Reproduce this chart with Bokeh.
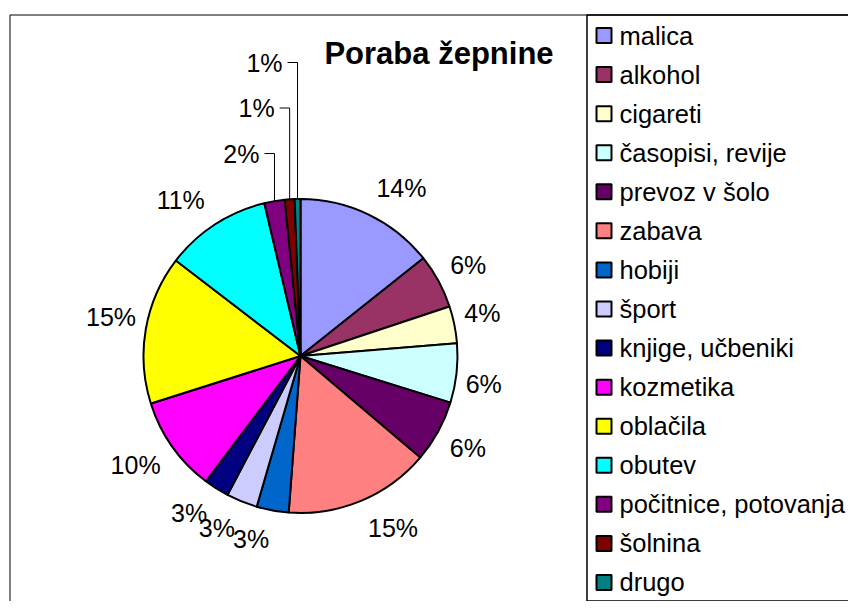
import math
from bokeh.plotting import figure
from bokeh.models import Range1d, ColumnDataSource
from bokeh.core.properties import value
from bokeh.embed import file_html
from bokeh.resources import INLINE

# ---- data ----
categories = ["malica", "alkohol", "cigareti", "časopisi, revije", "prevoz v šolo",
              "zabava", "hobiji", "šport", "knjige, učbeniki", "kozmetika",
              "oblačila", "obutev", "počitnice, potovanja", "šolnina", "drugo"]
shares = [14.3, 5.6, 3.8, 6.1, 6.4, 15.0, 3.3, 3.2, 2.6, 9.8, 15.3, 10.9, 2.1, 1.0, 0.6]
colors = ["#9999FF", "#993366", "#FFFFCC", "#CCFFFF", "#660066", "#FF8080", "#0066CC",
          "#CCCCFF", "#000080", "#FF00FF", "#FFFF00", "#00FFFF", "#800080", "#800000",
          "#008080"]
title_text = "Poraba žepnine"

# ---- layout (data x = px, data y = H - py) ----
W, H = 848, 601
FONT = "Liberation Sans"
LABEL_PX = 25


def Y(py):
    return H - py


cx, cy, r = 300.0, 355.5, 157.0

p = figure(width=W, height=H, output_backend="svg", toolbar_location=None,
           x_range=Range1d(0, W), y_range=Range1d(0, H),
           x_axis_type=None, y_axis_type=None, min_border=0,
           outline_line_color=None, background_fill_color="white",
           border_fill_color="white")
p.grid.visible = False

# outer chart border
p.quad(left=[9.5], right=[W + 50], top=[Y(14.5)], bottom=[-50],
       fill_color=None, line_color="black", line_width=1)

# ---- pie ----
total = float(sum(shares))
starts, ends, mids = [], [], []
cum = 0.0
for v in shares:
    t0 = 2 * math.pi * cum / total
    cum += v
    t1 = 2 * math.pi * cum / total
    starts.append(math.pi / 2 - t0)
    ends.append(math.pi / 2 - t1)
    mids.append((t0 + t1) / 2)

src = ColumnDataSource(dict(start=starts, end=ends, color=colors))
p.wedge(x=cx, y=Y(cy), radius=r, start_angle="start", end_angle="end",
        direction="clock", fill_color="color", line_color="black",
        line_width=2, source=src)

# ---- data labels ----
lx, ly, lt = [], [], []
rx, ry, rt = [], [], []
lead_xs, lead_ys = [], []
k = 0
for v, th in zip(shares, mids):
    pct = int(v / total * 100 + 0.5)
    txt = f"{pct}%"
    s, c = math.sin(th), math.cos(th)
    if v < 2.5:
        ax, ay = cx + r * s, cy - r * c
        lyp = (cy - r) - 45.5 * (k + 1)
        k += 1
        rx.append(ax - 15)
        ry.append(Y(lyp))
        rt.append(txt)
        lead_xs.append([ax - 10, ax, ax])
        lead_ys.append([Y(lyp), Y(lyp), Y(ay)])
    else:
        width = (0.556 * (len(txt) - 1) + 0.889) * LABEL_PX
        hw, hh = width / 2, 10
        d = r + 8 + 11 * abs(c)
        ax, ay = cx + d * s, cy - d * c
        px = ax + hw * (1 if s >= 0 else -1)
        py = ay - hh * (1 if c >= 0 else -1)
        lx.append(px)
        ly.append(Y(py))
        lt.append(txt)

p.text(x=lx, y=ly, text=lt, text_font=value(FONT), text_font_size=f"{LABEL_PX}px",
       text_align="center", text_baseline="middle", text_color="black")
p.text(x=rx, y=ry, text=rt, text_font=value(FONT), text_font_size=f"{LABEL_PX}px",
       text_align="right", text_baseline="middle", text_color="black")
p.multi_line(xs=lead_xs, ys=lead_ys, line_color="black", line_width=1)

# ---- title ----
p.text(x=[438.5], y=[Y(52.5)], text=[title_text], text_font=value(FONT),
       text_font_size="31px", text_font_style="bold", text_align="center",
       text_baseline="middle", text_color="black")

# ---- legend ----
p.quad(left=[586.5], right=[W + 50], top=[Y(14.5)], bottom=[Y(600.5)],
       fill_color=None, line_color="black", line_width=1.5)
row0, step = 35.0, 39.07
leg_y = [Y(row0 + i * step) for i in range(len(categories))]
p.rect(x=[603.5] * len(categories), y=leg_y, width=15, height=15,
       fill_color=colors, line_color="black", line_width=2)
p.text(x=[619] * len(categories), y=leg_y, text=categories, text_font=value(FONT),
       text_font_size="25.5px", text_align="left", text_baseline="middle",
       text_color="black")

open("out.html", "w").write(file_html(p, INLINE))
